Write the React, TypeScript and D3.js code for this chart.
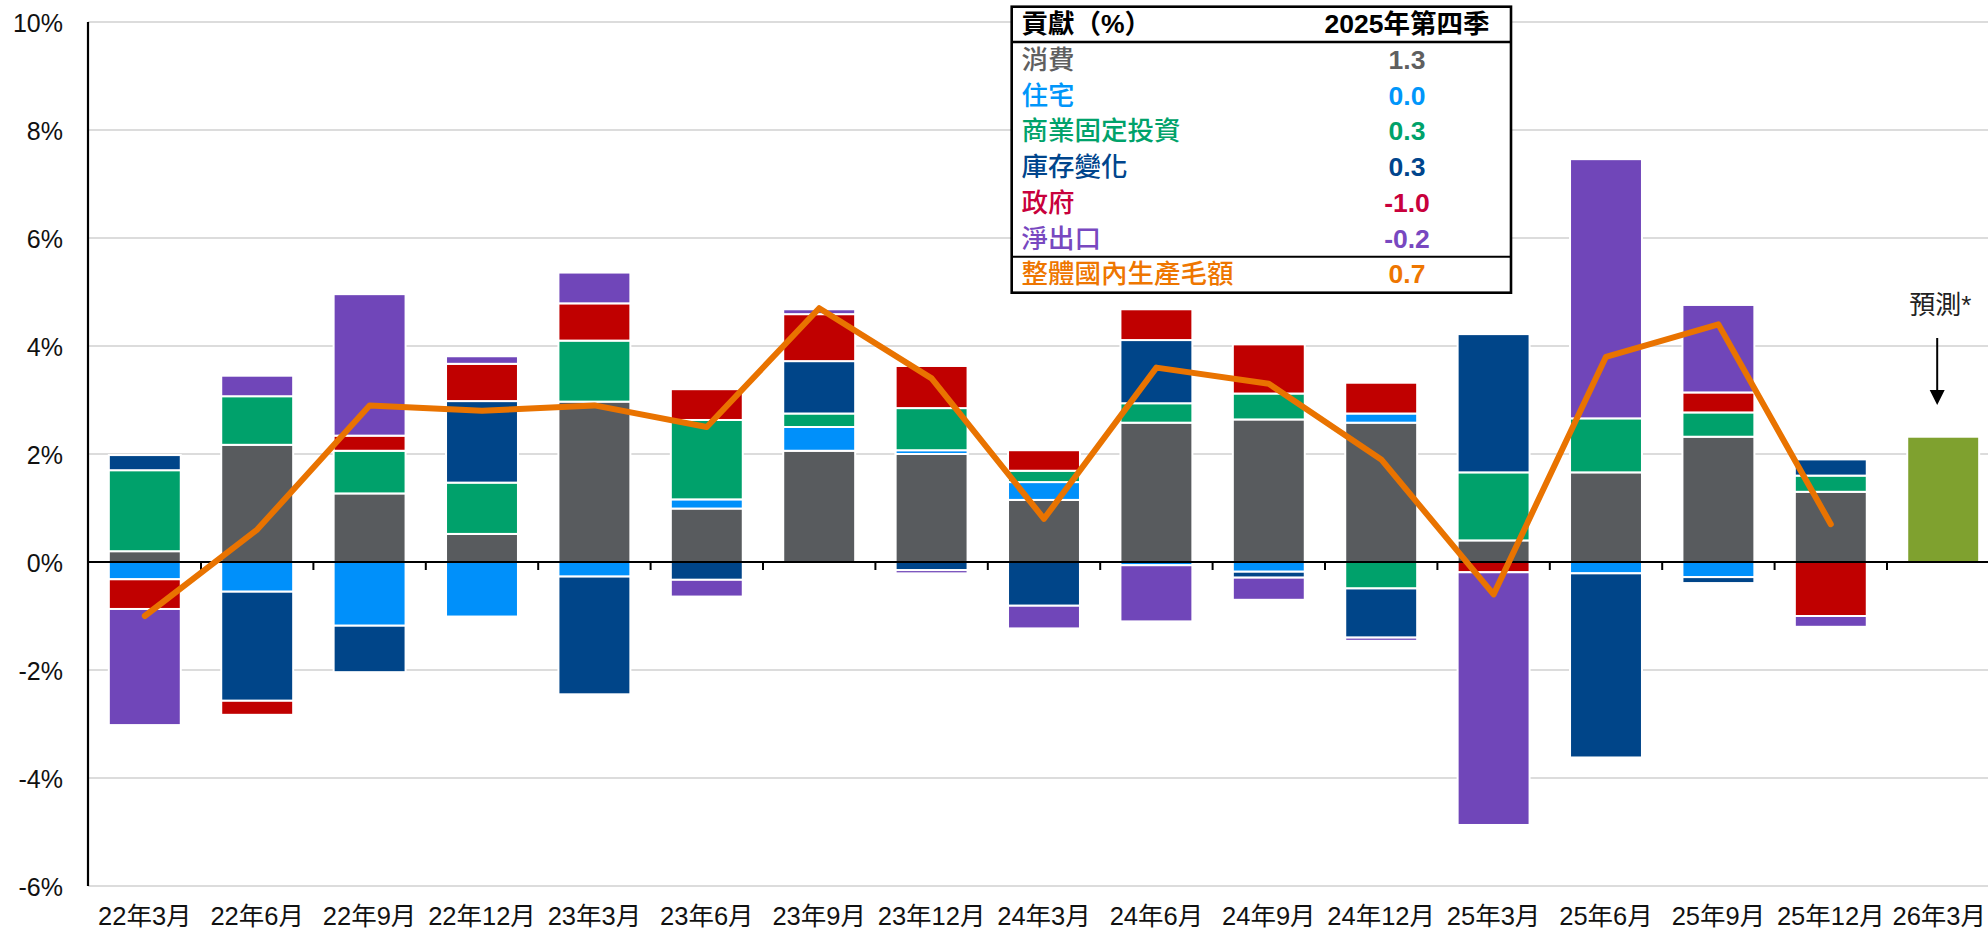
import React from 'react';
import * as d3 from 'd3';

// quarters on the x axis
const categories = [
  '22年3月', '22年6月', '22年9月', '22年12月',
  '23年3月', '23年6月', '23年9月', '23年12月',
  '24年3月', '24年6月', '24年9月', '24年12月',
  '25年3月', '25年6月', '25年9月', '25年12月', '26年3月',
];

// contributions (percentage points), one value per actual quarter
const consumption = [0.2, 2.17, 1.27, 0.52, 2.97, 0.99, 2.06, 2.0, 1.15, 2.58, 2.64, 2.58, 0.4, 1.66, 2.32, 1.3];
const residential = [-0.32, -0.55, -1.18, -1.01, -0.27, 0.17, 0.44, 0.07, 0.33, -0.06, -0.18, 0.17, 0, -0.21, -0.28, 0.0];
const business = [1.5, 0.9, 0.79, 0.95, 1.13, 1.47, 0.25, 0.78, 0.21, 0.36, 0.48, -0.49, 1.26, 1.0, 0.45, 0.3];
const inventory = [0.28, -2.02, -0.86, 1.51, -2.18, -0.33, 0.97, -0.15, -0.81, 1.17, -0.11, -0.91, 2.56, -3.41, -0.11, 0.3];
const government = [-0.55, -0.26, 0.28, 0.69, 0.69, 0.57, 0.87, 0.78, 0.38, 0.57, 0.91, 0.57, -0.19, 0, 0.37, -1.0];
const netExports = [-2.15, 0.38, 2.62, 0.14, 0.57, -0.31, 0.09, -0.06, -0.42, -1.04, -0.41, -0.06, -4.68, 4.8, 1.62, -0.2];
const gdp = [-1.0, 0.6, 2.9, 2.8, 2.9, 2.5, 4.7, 3.4, 0.8, 3.6, 3.3, 1.9, -0.6, 3.8, 4.4, 0.7];

// forecast bar for the last category
const forecastLabel = '26年3月';
const forecastValue = 2.32;

const yTicks = [-6, -4, -2, 0, 2, 4, 6, 8, 10];

const seriesNames = ['消費', '住宅', '商業固定投資', '庫存變化', '政府', '淨出口'];
const seriesValues = [consumption, residential, business, inventory, government, netExports];
const barColors = ['#585b5e', '#0090fa', '#00a16b', '#004589', '#c00000', '#7046b9'];
const textColors = ['#5f5f5f', '#0096fa', '#00a26a', '#00458c', '#c8003c', '#7848c0'];
const gdpName = '整體國內生產毛額';
const gdpColor = '#e97300';

// table values for latest quarter
const tableHeader = ['貢獻（%）', '2025年第四季'];
const tableValues = ['1.3', '0.0', '0.3', '0.3', '-1.0', '-0.2'];
const tableGdp = '0.7';

const width = 1988;
const height = 930;
const font = "'Liberation Sans', Arial, 'Noto Sans CJK TC', sans-serif";

export default function App() {
  const x = d3
    .scaleBand<string>()
    .domain(categories)
    .range([88.6, 1999.4])
    .paddingInner(0.36)
    .paddingOuter(0.18);
  const y = d3.scaleLinear().domain([-6, 10]).range([886, 22]);
  const step = x.step();
  const x0 = x.range()[0];

  const rows = consumption.map((_, i) => {
    const r: any = { cat: categories[i] };
    seriesNames.forEach((n, k) => (r[n] = seriesValues[k][i]));
    return r;
  });
  const stacked = d3
    .stack<any>()
    .keys(seriesNames)
    .offset(d3.stackOffsetDiverging)(rows);

  const line = d3
    .line<number>()
    .x((_, i) => (x(categories[i]) as number) + x.bandwidth() / 2)
    .y((d) => y(d));

  const boxL = 1011.7;
  const boxR = 1511;
  const boxT = 6.7;
  const boxB = 292.7;
  const rowY = (i: number) => 69 + i * 35.7;
  const valX = 1407;
  const fs = 26.5;

  const arrowX = (x(forecastLabel) as number) + x.bandwidth() / 2 - 6;

  return (
    <svg
      width={width}
      height={height}
      style={{ position: 'absolute', left: 0, top: 0, background: '#fff' }}
      fontFamily={font}
    >
      {/* gridlines */}
      {yTicks
        .filter((t) => t !== 0)
        .map((t) => (
          <line key={t} x1={88} x2={width} y1={y(t)} y2={y(t)} stroke='#d0d0d0' strokeWidth={1.3} />
        ))}

      {/* y labels */}
      {yTicks.map((t) => (
        <text key={t} x={63} y={y(t) + 9.5} textAnchor='end' fontSize={25} fill='#111'>
          {t + '%'}
        </text>
      ))}

      {/* stacked bars */}
      {stacked.map((s, k) => (
        <g key={s.key} fill={barColors[k]}>
          {s
            .filter((d) => Math.abs(d[1] - d[0]) > 0.001)
            .map((d) => (
              <rect
                key={d.data.cat}
                x={x(d.data.cat)}
                width={x.bandwidth()}
                y={y(d[1])}
                height={y(d[0]) - y(d[1])}
                stroke='#fff'
                strokeWidth={2}
              />
            ))}
        </g>
      ))}

      {/* forecast bar */}
      <rect
        x={x(forecastLabel)}
        width={x.bandwidth()}
        y={y(forecastValue)}
        height={y(0) - y(forecastValue)}
        fill='#7fa12f'
        stroke='#fff'
        strokeWidth={2}
      />

      {/* zero line & ticks */}
      <line x1={88} x2={width} y1={y(0)} y2={y(0)} stroke='#000' strokeWidth={2.2} />
      {categories.slice(1).map((c, i) => (
        <line
          key={c}
          x1={x0 + (i + 1) * step}
          x2={x0 + (i + 1) * step}
          y1={y(0)}
          y2={y(0) + 8}
          stroke='#000'
          strokeWidth={2}
        />
      ))}
      <line x1={88} x2={88} y1={y(10)} y2={y(-6)} stroke='#000' strokeWidth={2.2} />

      {/* x labels (last one pulled in so it stays on the page) */}
      {categories.map((c, i) => {
        const last = i === categories.length - 1;
        return (
          <text
            key={c}
            x={last ? width - 2 : (x(c) as number) + x.bandwidth() / 2}
            y={925}
            textAnchor={last ? 'end' : 'middle'}
            fontSize={25.5}
            fill='#111'
          >
            {c}
          </text>
        );
      })}

      {/* GDP line */}
      <path
        d={line(gdp) || ''}
        fill='none'
        stroke={gdpColor}
        strokeWidth={6}
        strokeLinejoin='round'
        strokeLinecap='round'
      />

      {/* forecast annotation */}
      <text x={arrowX + 3} y={314} textAnchor='middle' fontSize={26} fill='#222'>
        預測*
      </text>
      <line x1={arrowX} x2={arrowX} y1={338} y2={392} stroke='#000' strokeWidth={2} />
      <path d={`M${arrowX - 7.5},390 L${arrowX + 7.5},390 L${arrowX},405 Z`} fill='#000' />

      {/* table */}
      <rect x={boxL} y={boxT} width={boxR - boxL} height={boxB - boxT} fill='#fff' stroke='#000' strokeWidth={2.6} />
      <line x1={boxL} x2={boxR} y1={42} y2={42} stroke='#000' strokeWidth={2.6} />
      <line x1={boxL} x2={boxR} y1={256.7} y2={256.7} stroke='#000' strokeWidth={2} />
      <text x={1021.5} y={33} fontSize={fs} fontWeight='bold' fill='#000'>
        {tableHeader[0]}
      </text>
      <text x={valX} y={33} fontSize={fs} fontWeight='bold' textAnchor='middle' fill='#000'>
        {tableHeader[1]}
      </text>
      {seriesNames.map((n, i) => (
        <g key={n}>
          <text x={1021.5} y={rowY(i)} fontSize={fs} fontWeight={500} fill={textColors[i]}>
            {n}
          </text>
          <text x={valX} y={rowY(i)} fontSize={fs} fontWeight='bold' textAnchor='middle' fill={textColors[i]}>
            {tableValues[i]}
          </text>
        </g>
      ))}
      <text x={1021.5} y={rowY(6)} fontSize={fs} fontWeight={500} fill='#ee7600'>
        {gdpName}
      </text>
      <text x={valX} y={rowY(6)} fontSize={fs} fontWeight='bold' textAnchor='middle' fill='#ee7600'>
        {tableGdp}
      </text>
    </svg>
  );
}
